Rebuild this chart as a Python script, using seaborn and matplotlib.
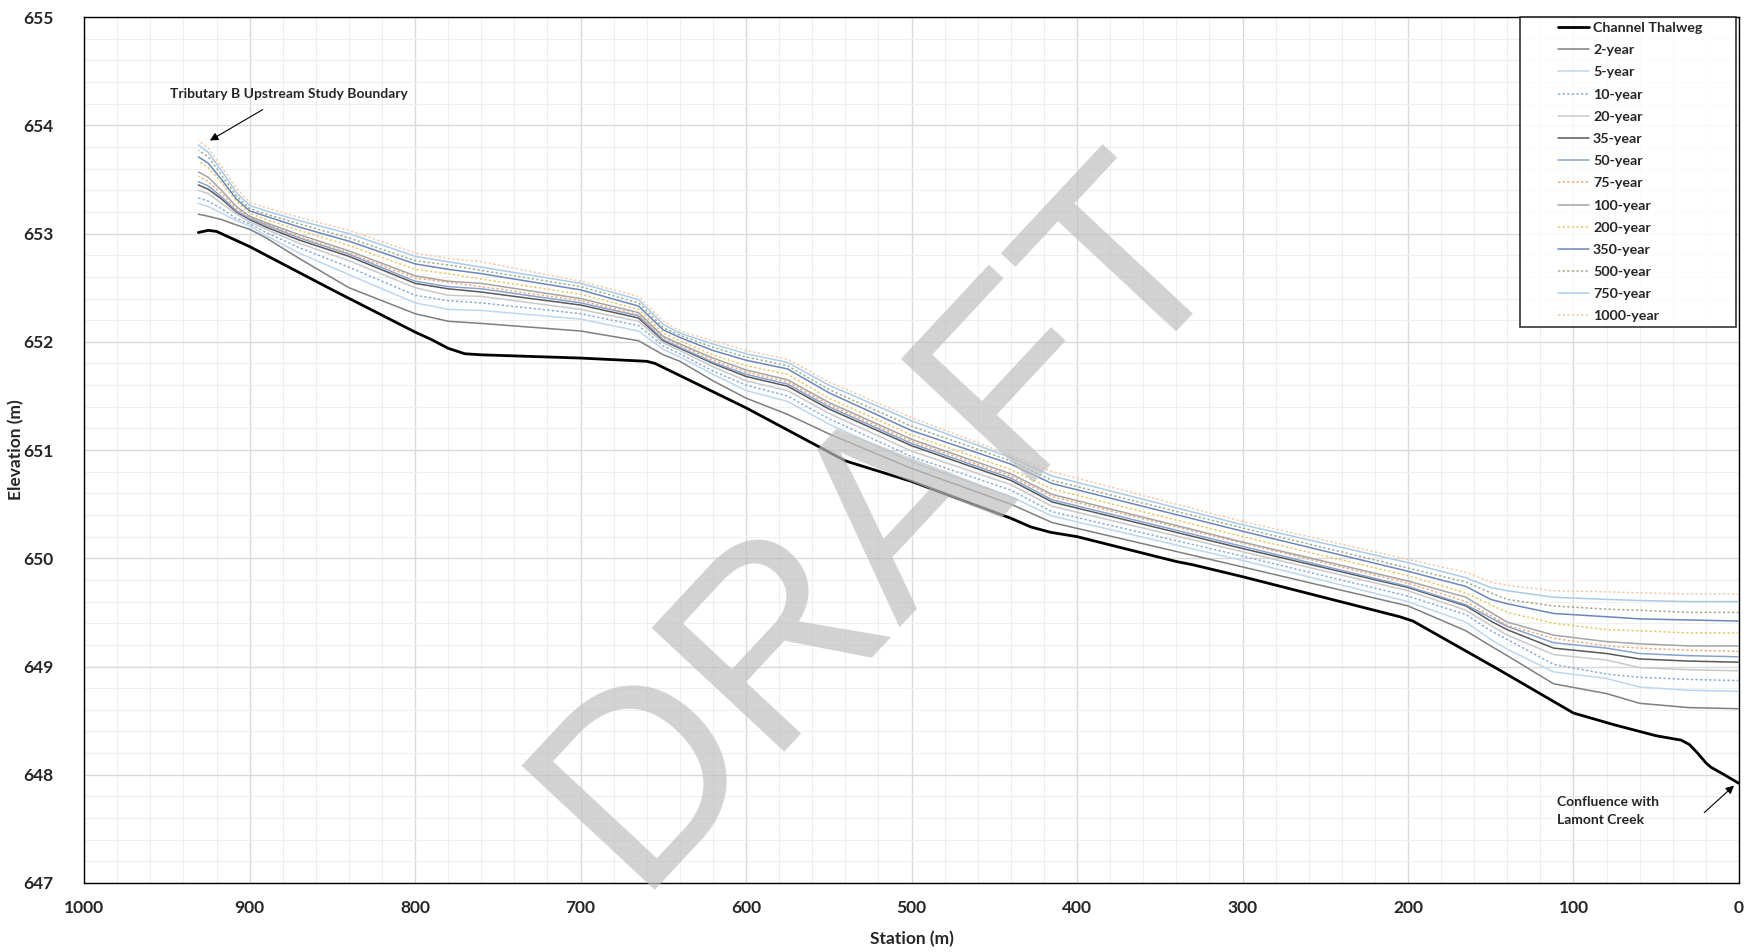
import numpy as np
import pandas as pd
import matplotlib
matplotlib.use("Agg")
import matplotlib.pyplot as plt
from matplotlib.legend_handler import HandlerLine2D
import seaborn as sns

# -----------------------------
# Data
# -----------------------------
thalweg_sta = [931, 925, 920, 900, 850, 800, 790, 780, 770, 760, 700, 660, 655, 600, 540, 500,
               440, 428, 416, 400, 340, 330, 300, 205, 197, 145, 100, 75, 50, 35, 30, 25, 20, 17, 10, 0]
thalweg_elev = [653.01, 653.03, 653.02, 652.88, 652.48, 652.09, 652.02, 651.94, 651.89, 651.88,
                651.85, 651.82, 651.80, 651.39, 650.90, 650.71, 650.37, 650.29, 650.24, 650.20,
                649.97, 649.94, 649.83, 649.46, 649.42, 648.97, 648.57, 648.46, 648.36, 648.32,
                648.28, 648.20, 648.11, 648.07, 648.01, 647.92]

ws_sta = [931, 925, 917, 908, 900, 890, 870, 840, 800, 780, 760, 700, 665, 650, 640, 620, 600, 575,
          550, 500, 440, 415, 300, 200, 165, 150, 140, 112, 80, 60, 30, 0]

wse_2yr = [653.18, 653.16, 653.13, 653.08, 653.04, 652.96, 652.77, 652.50, 652.26, 652.19, 652.17,
           652.10, 652.01, 651.88, 651.82, 651.64, 651.48, 651.33, 651.15, 650.83, 650.50, 650.33,
           649.92, 649.56, 649.33, 649.19, 649.10, 648.84, 648.75, 648.66, 648.62, 648.61]
wse_5yr = [653.28, 653.25, 653.19, 653.12, 653.07, 652.98, 652.82, 652.62, 652.36, 652.30, 652.29,
           652.21, 652.10, 651.93, 651.86, 651.70, 651.55, 651.45, 651.24, 650.89, 650.57, 650.39,
           649.98, 649.60, 649.41, 649.25, 649.16, 648.95, 648.89, 648.81, 648.78, 648.77]
wse_10yr = [653.33, 653.30, 653.23, 653.14, 653.09, 653.01, 652.87, 652.69, 652.43, 652.38, 652.36,
            652.26, 652.15, 651.96, 651.89, 651.73, 651.60, 651.50, 651.29, 650.94, 650.63, 650.43,
            650.02, 649.65, 649.48, 649.33, 649.25, 649.02, 648.93, 648.90, 648.88, 648.87]
wse_20yr = [653.40, 653.37, 653.28, 653.18, 653.11, 653.04, 652.91, 652.75, 652.50, 652.43, 652.42,
            652.30, 652.19, 651.99, 651.92, 651.77, 651.64, 651.55, 651.34, 650.99, 650.68, 650.48,
            650.06, 649.70, 649.52, 649.38, 649.29, 649.11, 649.06, 648.99, 648.97, 648.96]
wse_35yr = [653.45, 653.41, 653.32, 653.20, 653.13, 653.06, 652.94, 652.79, 652.54, 652.49, 652.46,
            652.34, 652.22, 652.01, 651.94, 651.80, 651.68, 651.59, 651.38, 651.04, 650.72, 650.52,
            650.09, 649.73, 649.56, 649.42, 649.34, 649.17, 649.12, 649.07, 649.05, 649.04]
wse_50yr = [653.48, 653.44, 653.34, 653.21, 653.14, 653.08, 652.96, 652.81, 652.56, 652.51, 652.49,
            652.36, 652.24, 652.02, 651.95, 651.81, 651.70, 651.61, 651.40, 651.06, 650.74, 650.54,
            650.11, 649.74, 649.57, 649.45, 649.37, 649.22, 649.17, 649.12, 649.10, 649.09]
wse_75yr = [653.53, 653.48, 653.37, 653.23, 653.15, 653.09, 652.97, 652.82, 652.59, 652.55, 652.51,
            652.38, 652.25, 652.04, 651.97, 651.83, 651.72, 651.63, 651.42, 651.08, 650.76, 650.57,
            650.14, 649.77, 649.60, 649.47, 649.38, 649.26, 649.19, 649.17, 649.15, 649.14]
wse_100yr = [653.57, 653.52, 653.40, 653.25, 653.16, 653.10, 652.99, 652.84, 652.61, 652.56, 652.54,
             652.40, 652.27, 652.05, 651.98, 651.85, 651.74, 651.65, 651.44, 651.10, 650.78, 650.59,
             650.15, 649.79, 649.64, 649.50, 649.41, 649.29, 649.23, 649.21, 649.19, 649.19]
wse_200yr = [653.67, 653.61, 653.47, 653.30, 653.19, 653.13, 653.03, 652.89, 652.67, 652.63, 652.58,
             652.44, 652.30, 652.08, 652.01, 651.88, 651.78, 651.70, 651.48, 651.14, 650.82, 650.64,
             650.20, 649.84, 649.68, 649.57, 649.50, 649.40, 649.34, 649.33, 649.31, 649.31]
wse_350yr = [653.71, 653.65, 653.50, 653.32, 653.21, 653.16, 653.06, 652.93, 652.72, 652.67, 652.63,
             652.48, 652.33, 652.11, 652.04, 651.92, 651.83, 651.75, 651.53, 651.18, 650.87, 650.69,
             650.25, 649.88, 649.74, 649.62, 649.58, 649.49, 649.46, 649.44, 649.43, 649.42]
wse_500yr = [653.77, 653.71, 653.54, 653.35, 653.23, 653.18, 653.09, 652.96, 652.75, 652.71, 652.66,
             652.51, 652.36, 652.13, 652.06, 651.95, 651.86, 651.78, 651.56, 651.22, 650.90, 650.72,
             650.28, 649.91, 649.78, 649.68, 649.62, 649.56, 649.53, 649.52, 649.50, 649.50]
wse_750yr = [653.82, 653.75, 653.58, 653.38, 653.26, 653.21, 653.12, 653.00, 652.79, 652.74, 652.69,
             652.54, 652.39, 652.16, 652.08, 651.98, 651.89, 651.81, 651.60, 651.27, 650.93, 650.76,
             650.31, 649.96, 649.82, 649.73, 649.70, 649.64, 649.62, 649.61, 649.60, 649.60]
wse_1000yr = [653.86, 653.79, 653.62, 653.42, 653.29, 653.24, 653.15, 653.03, 652.82, 652.77, 652.74,
              652.56, 652.42, 652.19, 652.10, 652.01, 651.92, 651.84, 651.63, 651.30, 650.95, 650.80,
              650.34, 649.99, 649.87, 649.78, 649.75, 649.70, 649.69, 649.68, 649.67, 649.67]

event_labels = ["2-year", "5-year", "10-year", "20-year", "35-year", "50-year", "75-year",
                "100-year", "200-year", "350-year", "500-year", "750-year", "1000-year"]
event_values = [wse_2yr, wse_5yr, wse_10yr, wse_20yr, wse_35yr, wse_50yr, wse_75yr,
                wse_100yr, wse_200yr, wse_350yr, wse_500yr, wse_750yr, wse_1000yr]
event_colors = ["#7f7f7f", "#bdd7ee", "#86aed8", "#c9c9c9", "#595959", "#86a3d2", "#f2aa7c",
                "#a5a5a5", "#e9c766", "#6a86bd", "#9cae8c", "#a9cbe8", "#f7c9aa"]
event_dotted = [False, False, True, False, False, False, True,
                False, True, False, True, False, True]


class RightHandle(HandlerLine2D):
    # draw the legend line only in the right part of the handle box
    def create_artists(self, legend, orig_handle, xdescent, ydescent, width, height,
                       fontsize, trans):
        arts = super().create_artists(legend, orig_handle, xdescent, ydescent, width,
                                      height, fontsize, trans)
        for a in arts:
            xd = np.asarray(a.get_xdata(), dtype=float)
            if xd.size >= 2:
                x0, x1 = xd.min(), xd.max()
                a.set_xdata(np.linspace(x0 + 0.52 * (x1 - x0), x1, xd.size))
        return arts


# -----------------------------
# Style
# -----------------------------
sns.set_style("white")
plt.rcParams["font.family"] = ["Lato", "DejaVu Sans"]
plt.rcParams["font.weight"] = "bold"

fig = plt.figure(figsize=(17.53, 9.52), dpi=100)
ax = fig.add_axes([0.048, 0.0725, 0.944, 0.9095])

# -----------------------------
# Profile lines
# -----------------------------
sns.lineplot(x=thalweg_sta, y=thalweg_elev, ax=ax, color="black", lw=2.0,
             label="Channel Thalweg", zorder=5)

for lab, vals, col, dot in zip(event_labels, event_values, event_colors, event_dotted):
    ls = (0, (1.5, 1.5)) if dot else "-"
    sns.lineplot(x=ws_sta, y=vals, ax=ax, color=col, lw=1.1, linestyle=ls, label=lab, zorder=3)

ax.set_xlim(1000, 0)
ax.set_ylim(647, 655)
ax.set_xticks(np.arange(0, 1001, 100))
ax.set_xticks(np.arange(0, 1001, 20), minor=True)
ax.set_yticks(np.arange(647, 655.1, 1))
ax.set_yticks(np.arange(647, 655.01, 0.2), minor=True)
ax.grid(which="major", color="#d9d9d9", lw=1.0)
ax.grid(which="minor", color="#efefef", lw=0.8)
ax.set_axisbelow(True)
ax.tick_params(axis="both", which="both", length=0)
ax.tick_params(axis="x", labelsize=12.5, pad=12)
ax.tick_params(axis="y", labelsize=12.5, pad=22)
for t in ax.get_xticklabels() + ax.get_yticklabels():
    t.set_fontweight("bold")
for s in ax.spines.values():
    s.set_color("black")
    s.set_linewidth(1.0)

ax.set_xlabel("Station (m)", fontsize=12.5, fontweight="bold", labelpad=11)
ax.set_ylabel("Elevation (m)", fontsize=12.5, fontweight="bold")
ax.yaxis.set_label_coords(-0.036, 0.5)

# -----------------------------
# Annotations
# -----------------------------
ax.annotate("Tributary B Upstream Study Boundary", xy=(924, 653.86), xytext=(876, 654.29),
            ha="center", va="center", fontsize=10, fontweight="bold",
            arrowprops=dict(arrowstyle="-|>", color="black", lw=0.8, mutation_scale=12,
                            shrinkA=9, shrinkB=0))
ax.annotate("", xy=(3, 647.90), xytext=(21, 647.65),
            arrowprops=dict(arrowstyle="-|>", color="black", lw=0.8, mutation_scale=12,
                            shrinkA=0, shrinkB=0))
ax.text(110, 647.80, "Confluence with\nLamont Creek", ha="left", va="top",
        fontsize=10, fontweight="bold", linespacing=1.6)

# DRAFT watermark
ax.text(0.483, 0.417, "DRAFT", transform=ax.transAxes, fontsize=190,
        family="Liberation Sans", fontweight="normal", color="#bfbfbf", alpha=0.7,
        rotation=47, rotation_mode="anchor", ha="center", va="center", zorder=10)

# -----------------------------
# Legend (fixed width box in the top-right corner)
# -----------------------------
leg = ax.legend(loc="upper left", bbox_to_anchor=(0.8677, 0.0, 0.1305, 1.0), mode="expand",
                borderaxespad=0, fontsize=10.3, frameon=True, fancybox=False,
                edgecolor="black", handlelength=4.45, handletextpad=0.3, labelspacing=0.71,
                borderpad=0.35, handler_map={plt.Line2D: RightHandle()})
leg.get_frame().set_linewidth(1.2)
leg.set_zorder(20)
for t in leg.get_texts():
    t.set_fontweight("bold")

fig.savefig("out.png", dpi=100)
